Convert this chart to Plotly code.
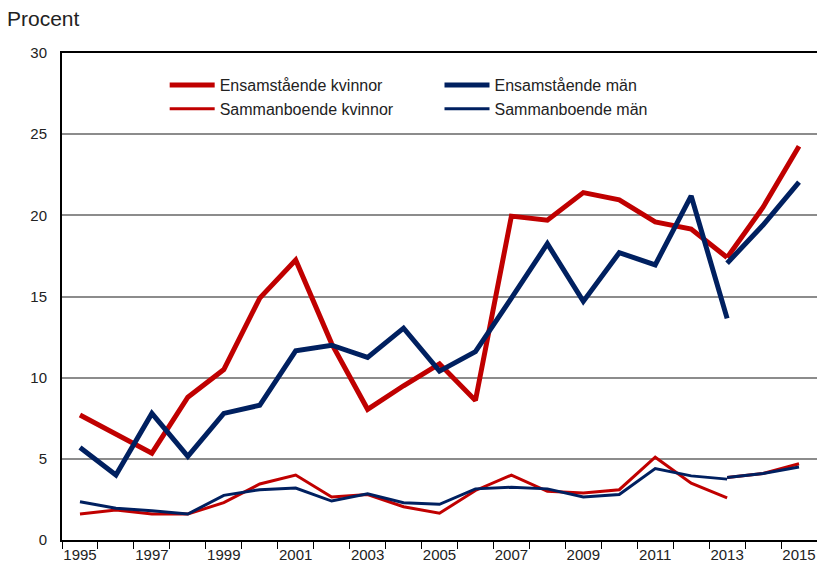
import plotly.graph_objects as go

# Årsdata, serieskiftet 2013 ger två delar per serie
years = list(range(1995, 2014))
years_new = [2013, 2014, 2015]

ensam_kvinnor = [7.7, 6.55, 5.35, 8.8, 10.5, 14.9, 17.25, 12.1, 8.05, 9.5, 10.85,
                 8.6, 19.95, 19.7, 21.4, 20.95, 19.6, 19.15, 17.4]
ensam_kvinnor_ny = [17.4, 20.5, 24.25]

ensam_man = [5.7, 4.0, 7.8, 5.15, 7.8, 8.3, 11.65, 12.0, 11.25, 13.05, 10.4,
             11.6, 14.9, 18.25, 14.7, 17.7, 16.95, 21.2, 13.65]
ensam_man_ny = [17.05, 19.4, 22.05]

samman_kvinnor = [1.6, 1.85, 1.6, 1.6, 2.3, 3.45, 4.0, 2.65, 2.8, 2.05, 1.65,
                  3.05, 4.0, 3.0, 2.9, 3.1, 5.1, 3.5, 2.6]
samman_kvinnor_ny = [3.85, 4.1, 4.7]

samman_man = [2.35, 1.95, 1.8, 1.6, 2.75, 3.1, 3.2, 2.4, 2.85, 2.3, 2.2,
              3.15, 3.25, 3.15, 2.65, 2.8, 4.4, 3.95, 3.75]
samman_man_ny = [3.85, 4.1, 4.5]

RED = "#C00000"
BLUE = "#002060"
FONT = "Liberation Sans, Arial, sans-serif"

fig = go.Figure()

def add(x, y, name, color, width, legend, show):
    fig.add_trace(go.Scatter(x=x, y=y, name=name, mode="lines",
                             line=dict(color=color, width=width),
                             legend=legend, showlegend=show, hoverinfo="skip"))

add(years, ensam_kvinnor, "Ensamstående kvinnor", RED, 5, "legend", True)
add(years_new, ensam_kvinnor_ny, "Ensamstående kvinnor", RED, 5, "legend", False)
add(years, samman_kvinnor, "Sammanboende kvinnor", RED, 3, "legend", True)
add(years_new, samman_kvinnor_ny, "Sammanboende kvinnor", RED, 3, "legend", False)
add(years, ensam_man, "Ensamstående män", BLUE, 5, "legend2", True)
add(years_new, ensam_man_ny, "Ensamstående män", BLUE, 5, "legend2", False)
add(years, samman_man, "Sammanboende män", BLUE, 3, "legend2", True)
add(years_new, samman_man_ny, "Sammanboende män", BLUE, 3, "legend2", False)

legend_style = dict(yanchor="top", y=0.969, bgcolor="rgba(0,0,0,0)",
                    font=dict(family=FONT, size=16, color="#222222"),
                    tracegroupgap=0, itemwidth=45)

fig.update_layout(
    width=817, height=572,
    margin=dict(l=62, r=0, t=53, b=32),
    paper_bgcolor="white", plot_bgcolor="white",
    title=dict(text="Procent", x=0, xanchor="left", y=0.981, yanchor="top",
               pad=dict(l=7),
               font=dict(family=FONT, size=21, color="#222222")),
    legend=dict(x=0.136, xanchor="left", **legend_style),
    legend2=dict(x=0.50, xanchor="left", **legend_style),
    xaxis=dict(range=[1994.5, 2015.5], tickmode="linear", tick0=1995, dtick=2,
               ticks="", showgrid=False, showline=True, linecolor="black",
               linewidth=2, mirror=True, automargin=False,
               tickfont=dict(family=FONT, size=15, color="#222222"),
               minor=dict(tick0=1994.5, dtick=1, ticks="outside", ticklen=7,
                          tickcolor="black", tickwidth=1, showgrid=False)),
    yaxis=dict(range=[0, 30], dtick=5, showgrid=True, gridcolor="#8c8c8c",
               gridwidth=2, showline=True, linecolor="black", linewidth=2,
               mirror=True, zeroline=False, ticks="", ticklabelstandoff=10,
               automargin=False,
               tickfont=dict(family=FONT, size=15, color="#222222")),
)

# ta bort sidans standardmarginal så att figuren fyller fönstret
fig.write_html("out.html", config={"displayModeBar": False},
               post_script="document.body.style.margin='0';")
